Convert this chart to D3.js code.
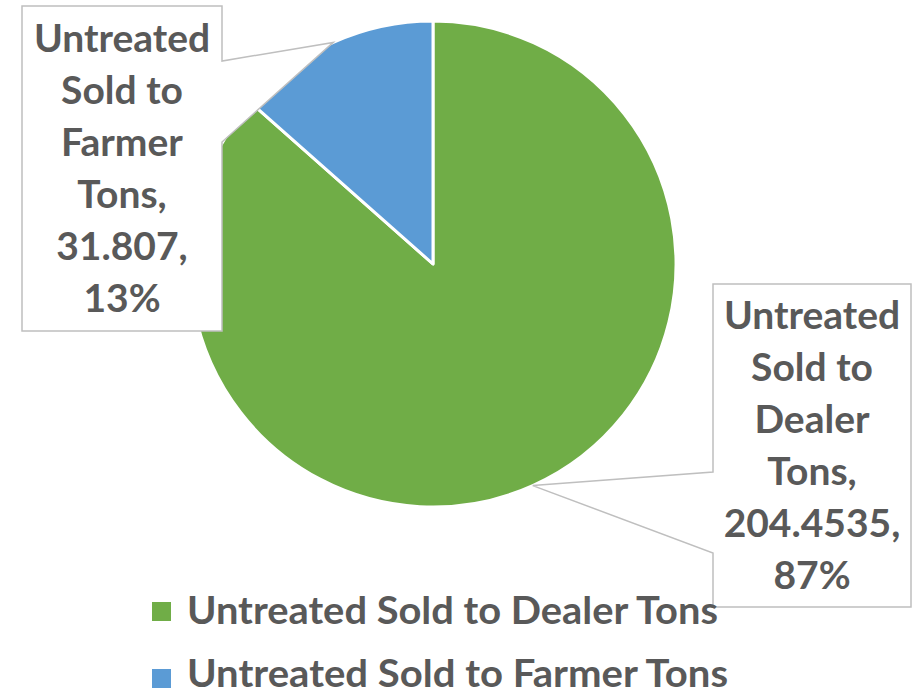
<!DOCTYPE html>
<html>
<head>
<meta charset="utf-8">
<script src="https://d3js.org/d3.v7.min.js"></script>
<style>
    body { margin: 0; background: #fff; }
    svg text { font-family: Lato, "Liberation Sans", sans-serif; font-weight: bold; fill: #595959; }
</style>
</head>
<body>
<svg id="chart" width="912" height="695"></svg>
<script>
// pie data
var categories = ["Untreated Sold to Dealer Tons", "Untreated Sold to Farmer Tons"];
var values = [204.4535, 31.807];
var valueLabels = ["204.4535", "31.807"];
var percentLabels = ["87%", "13%"];
var colors = ["#70AD47", "#5B9BD5"];

var svg = d3.select("#chart"),
    cx = 433,
    cy = 264,
    radius = 243;

var pie = d3.pie().sort(null).value(function (d) { return d; });
var arcs = pie(values);

var arc = d3.arc().innerRadius(0).outerRadius(radius);
var tipArc = d3.arc().innerRadius(radius).outerRadius(radius);

var g = svg.append("g").attr("transform", "translate(" + cx + "," + cy + ")");

g.selectAll("path")
    .data(arcs)
    .enter()
    .append("path")
    .attr("d", arc)
    .attr("fill", function (d, i) { return colors[i]; })
    .attr("stroke", "#fff")
    .attr("stroke-width", 3)
    .attr("stroke-linejoin", "round");

// callout boxes (x, y, w, h, side of the pointer, pointer base offsets)
var boxes = [
    {x: 713, y: 284, w: 198, h: 323, side: "left", b0: 188, b1: 269},
    {x: 22, y: 6, w: 200, h: 325, side: "right", b0: 55, b1: 136}
];

var lineStep = 52;

arcs.forEach(function (d, i) {
    var b = boxes[i];
    var tip = tipArc.centroid(d);
    tip = [tip[0] + cx, tip[1] + cy];
    var pts;
    if (b.side === "right") {
        var rx = b.x + b.w;
        pts = [[b.x, b.y], [rx, b.y], [rx, b.y + b.b0], tip, [rx, b.y + b.b1],
            [rx, b.y + b.h], [b.x, b.y + b.h]];
    } else {
        pts = [[b.x, b.y], [b.x + b.w, b.y], [b.x + b.w, b.y + b.h], [b.x, b.y + b.h],
            [b.x, b.y + b.b1], tip, [b.x, b.y + b.b0]];
    }
    svg.append("path")
        .attr("d", "M" + pts.join("L") + "Z")
        .attr("fill", "#fff")
        .attr("stroke", "#BFBFBF")
        .attr("stroke-width", 1.5);

    var words = categories[i].split(" ");
    var lines = [words[0], words[1] + " " + words[2], words[3], words[4] + ",",
        valueLabels[i] + ",", percentLabels[i]];
    var firstBaseline = b.y + b.h / 2 - (lines.length - 1) * lineStep / 2 + 13;

    svg.append("g").selectAll("text")
        .data(lines)
        .enter()
        .append("text")
        .attr("x", b.x + b.w / 2)
        .attr("y", function (t, j) { return firstBaseline + j * lineStep; })
        .attr("text-anchor", "middle")
        .style("font-size", "39px")
        .text(function (t) { return t; });
});

// legend
var legendWidths = [531, 541];

var legend = svg.append("g").selectAll("g")
    .data(categories)
    .enter()
    .append("g")
    .attr("transform", function (d, i) { return "translate(152," + (602 + i * 67) + ")"; });

legend.append("rect")
    .attr("width", 19)
    .attr("height", 19)
    .attr("fill", function (d, i) { return colors[i]; });

legend.append("text")
    .attr("x", 35)
    .attr("y", function (d, i) { return i === 0 ? 22 : 18; })
    .attr("textLength", function (d, i) { return legendWidths[i]; })
    .attr("lengthAdjust", "spacingAndGlyphs")
    .style("font-size", "38px")
    .text(function (d) { return d; });
</script>
</body>
</html>
